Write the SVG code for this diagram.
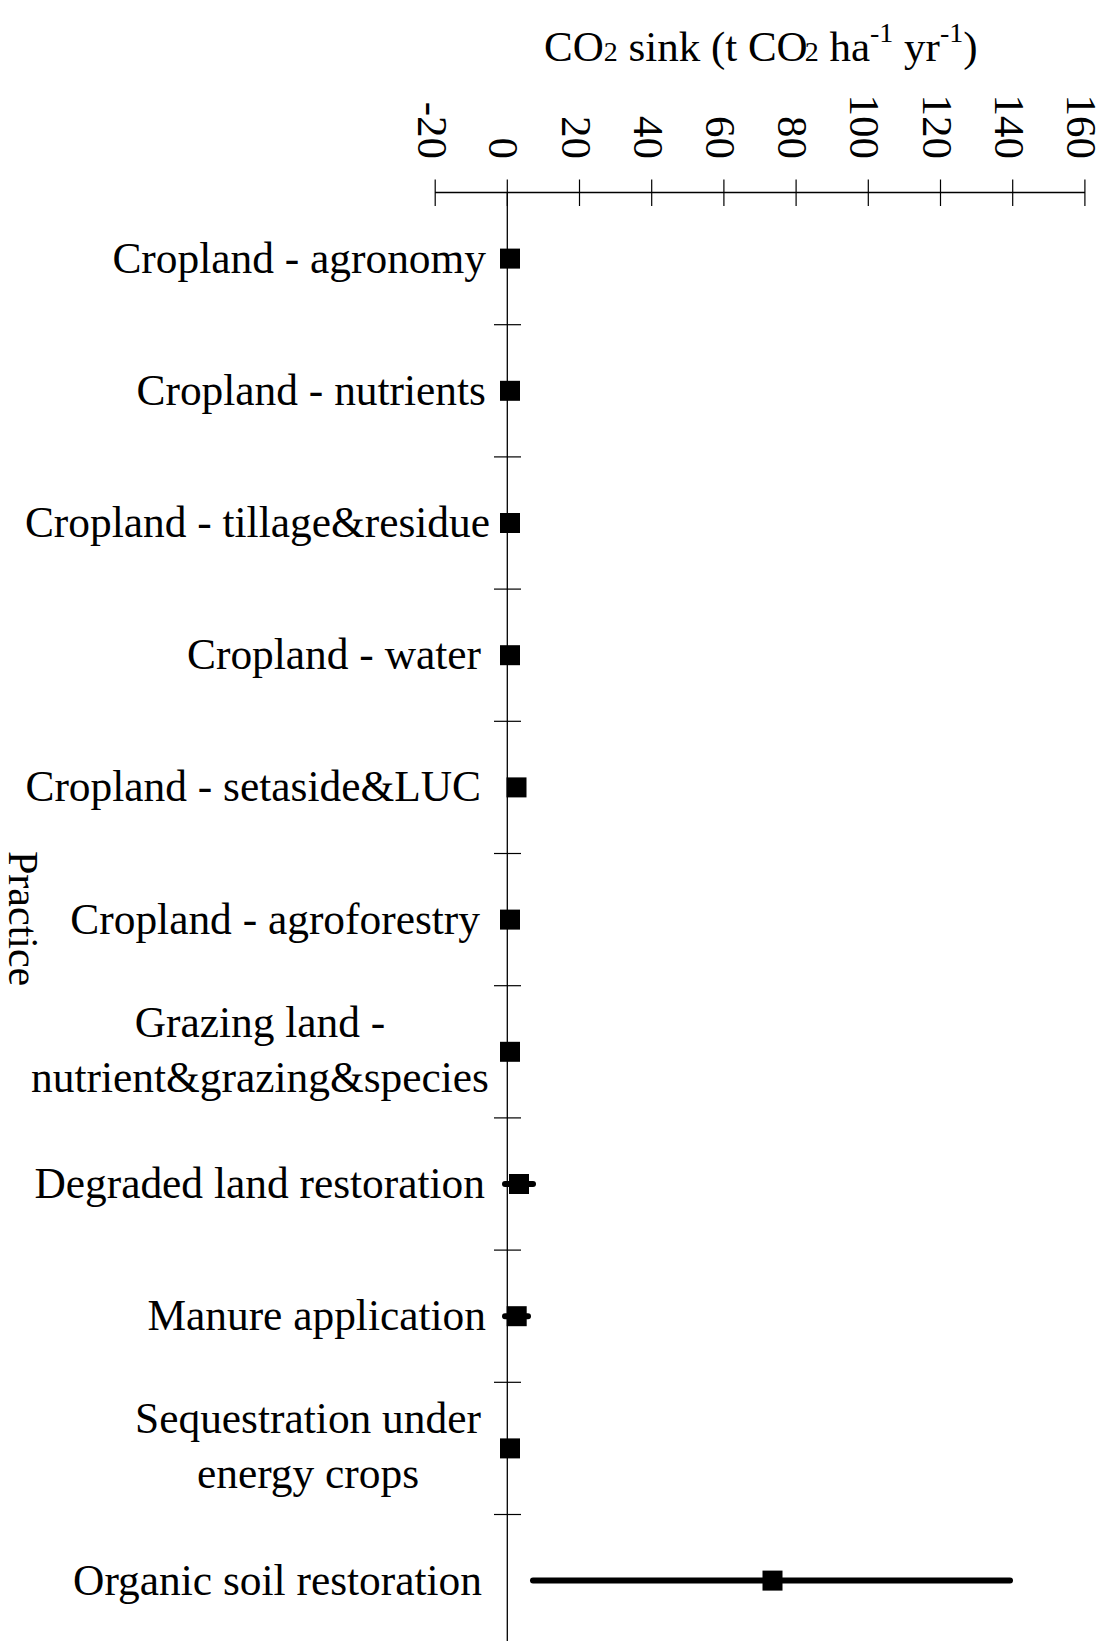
<svg xmlns="http://www.w3.org/2000/svg" width="1108" height="1641" viewBox="0 0 1108 1641">
<style>
text { font-family: "Liberation Serif", "Times New Roman", serif; fill: #000; }
.lab { font-size: 43.4px; }
.tick { font-size: 43px; }
.ttl { font-size: 43px; }
.ax { stroke: #000; stroke-width: 1.3; fill: none; }
.tk { stroke: #000; stroke-width: 1.2; }
.mk { fill: #000; }
.eb { stroke: #000; stroke-width: 6; stroke-linecap: round; }
</style>
<rect width="1108" height="1641" fill="#fff"/>

<g id="title">
  <text class="ttl" x="544" y="61">CO<tspan font-size="28">2</tspan> sink (t CO<tspan font-size="28" dx="-3">2</tspan> ha<tspan font-size="28" dy="-19">-1</tspan><tspan dy="19"> yr</tspan><tspan font-size="28" dy="-19">-1</tspan><tspan dy="19">)</tspan></text>
</g>

<g id="y-title">
  <text font-size="42" transform="translate(9,851) rotate(90)" x="0" y="0">Practice</text>
</g>

<g id="axes">
  <line class="ax" x1="435" y1="192.5" x2="1085" y2="192.5"/>
  <line class="ax" x1="507.3" y1="192.5" x2="507.3" y2="1641"/>
  <g id="value-ticks">
    <line class="tk" x1="435.2" y1="179.5" x2="435.2" y2="206"/>
    <line class="tk" x1="507.3" y1="179.5" x2="507.3" y2="206"/>
    <line class="tk" x1="579.5" y1="179.5" x2="579.5" y2="206"/>
    <line class="tk" x1="651.7" y1="179.5" x2="651.7" y2="206"/>
    <line class="tk" x1="723.9" y1="179.5" x2="723.9" y2="206"/>
    <line class="tk" x1="796.1" y1="179.5" x2="796.1" y2="206"/>
    <line class="tk" x1="868.3" y1="179.5" x2="868.3" y2="206"/>
    <line class="tk" x1="940.5" y1="179.5" x2="940.5" y2="206"/>
    <line class="tk" x1="1012.7" y1="179.5" x2="1012.7" y2="206"/>
    <line class="tk" x1="1084.9" y1="179.5" x2="1084.9" y2="206"/>
  </g>
  <g id="value-tick-labels">
    <text class="tick" text-anchor="end" transform="translate(418.2,159) rotate(90)">-20</text>
    <text class="tick" text-anchor="end" transform="translate(489.3,159) rotate(90)">0</text>
    <text class="tick" text-anchor="end" transform="translate(561.5,159) rotate(90)">20</text>
    <text class="tick" text-anchor="end" transform="translate(633.7,159) rotate(90)">40</text>
    <text class="tick" text-anchor="end" transform="translate(705.9,159) rotate(90)">60</text>
    <text class="tick" text-anchor="end" transform="translate(778.1,159) rotate(90)">80</text>
    <text class="tick" text-anchor="end" transform="translate(850.3,159) rotate(90)">100</text>
    <text class="tick" text-anchor="end" transform="translate(922.5,159) rotate(90)">120</text>
    <text class="tick" text-anchor="end" transform="translate(994.7,159) rotate(90)">140</text>
    <text class="tick" text-anchor="end" transform="translate(1066.9,159) rotate(90)">160</text>
  </g>
  <g id="category-ticks">
    <line class="tk" x1="494" y1="324.7" x2="521" y2="324.7"/>
    <line class="tk" x1="494" y1="456.9" x2="521" y2="456.9"/>
    <line class="tk" x1="494" y1="589.1" x2="521" y2="589.1"/>
    <line class="tk" x1="494" y1="721.3" x2="521" y2="721.3"/>
    <line class="tk" x1="494" y1="853.5" x2="521" y2="853.5"/>
    <line class="tk" x1="494" y1="985.7" x2="521" y2="985.7"/>
    <line class="tk" x1="494" y1="1117.9" x2="521" y2="1117.9"/>
    <line class="tk" x1="494" y1="1250.1" x2="521" y2="1250.1"/>
    <line class="tk" x1="494" y1="1382.3" x2="521" y2="1382.3"/>
    <line class="tk" x1="494" y1="1514.5" x2="521" y2="1514.5"/>
  </g>
</g>

<g id="connectors"></g>

<g id="n-agronomy">
  <text class="lab" text-anchor="end" x="486" y="272.6">Cropland - agronomy</text>
  <rect class="mk" x="500" y="248.6" width="20" height="20"/>
</g>
<g id="n-nutrients">
  <text class="lab" text-anchor="end" x="486" y="404.8">Cropland - nutrients</text>
  <rect class="mk" x="500" y="380.8" width="20" height="20"/>
</g>
<g id="n-tillage">
  <text class="lab" text-anchor="end" x="490" y="537">Cropland - tillage&amp;residue</text>
  <rect class="mk" x="500" y="513" width="20" height="20"/>
</g>
<g id="n-water">
  <text class="lab" text-anchor="end" x="481" y="669.2">Cropland - water</text>
  <rect class="mk" x="500" y="645.2" width="20" height="20"/>
</g>
<g id="n-setaside">
  <text class="lab" text-anchor="end" x="481" y="801.4">Cropland - setaside&amp;LUC</text>
  <rect class="mk" x="506.5" y="777.4" width="20" height="20"/>
</g>
<g id="n-agroforestry">
  <text class="lab" text-anchor="end" x="480" y="933.6">Cropland - agroforestry</text>
  <rect class="mk" x="500" y="909.6" width="20" height="20"/>
</g>
<g id="n-grazing">
  <text class="lab" text-anchor="middle" x="260" y="1037">Grazing land -</text>
  <text class="lab" text-anchor="middle" x="260" y="1092">nutrient&amp;grazing&amp;species</text>
  <rect class="mk" x="500" y="1041.8" width="20" height="20"/>
</g>
<g id="n-degraded">
  <text class="lab" text-anchor="end" x="485" y="1198">Degraded land restoration</text>
  <line class="eb" x1="505" y1="1184" x2="533" y2="1184"/>
  <rect class="mk" x="509" y="1174" width="20" height="20"/>
</g>
<g id="n-manure">
  <text class="lab" text-anchor="end" x="486" y="1330.2">Manure application</text>
  <line class="eb" x1="505" y1="1316.2" x2="528" y2="1316.2"/>
  <rect class="mk" x="506.7" y="1306.2" width="20" height="20"/>
</g>
<g id="n-sequestration">
  <text class="lab" text-anchor="middle" x="308" y="1433">Sequestration under</text>
  <text class="lab" text-anchor="middle" x="308" y="1488">energy crops</text>
  <rect class="mk" x="500" y="1438.4" width="20" height="20"/>
</g>
<g id="n-organic">
  <text class="lab" text-anchor="end" x="482" y="1594.6">Organic soil restoration</text>
  <line class="eb" x1="533" y1="1580.6" x2="1010" y2="1580.6"/>
  <rect class="mk" x="762.5" y="1570.6" width="20" height="20"/>
</g>
</svg>
